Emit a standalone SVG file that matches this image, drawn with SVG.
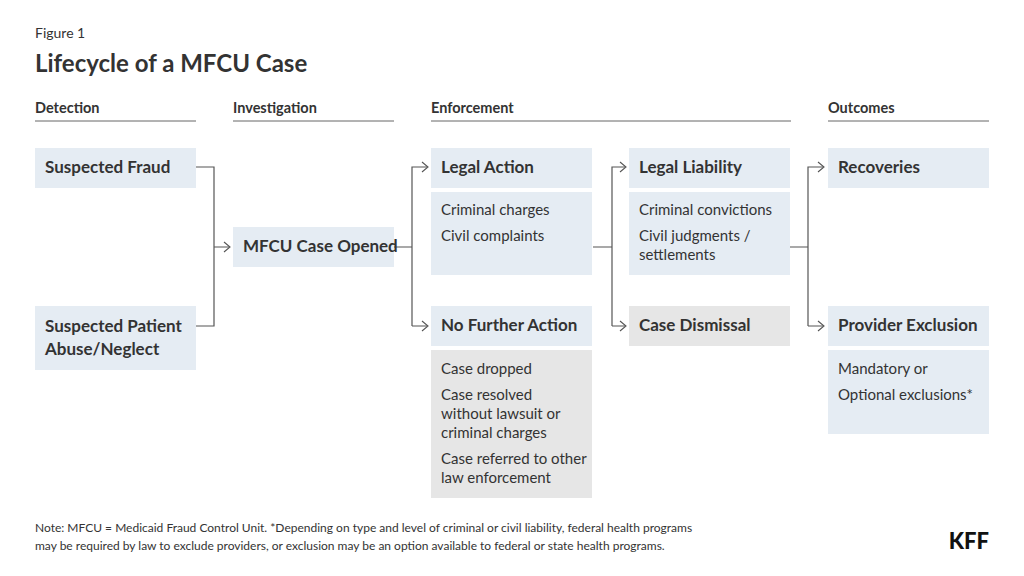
<svg xmlns="http://www.w3.org/2000/svg" width="1024" height="576" viewBox="0 0 1024 576">
<style>
text{font-family:Lato,"Open Sans","Liberation Sans",sans-serif;fill:#333}
.h{font-size:17px;font-weight:700}
.c{font-size:14.5px;font-weight:700}
.b{font-size:15px}
.blue{fill:#e5ecf3}
.gray{fill:#e6e6e6}
.rule{stroke:#666;stroke-width:1}
.ln{fill:none;stroke:#555;stroke-width:1.2}
.ar{fill:none;stroke:#555;stroke-width:1.1}
</style>
<rect width="1024" height="576" fill="#fff"/>
<text x="35" y="38" style="font-size:14px">Figure 1</text>
<text x="35" y="72" style="font-size:24px;font-weight:700">Lifecycle of a MFCU Case</text>
<g id="headers">
<text x="35" y="113" class="c">Detection</text><line class="rule" x1="35" y1="121" x2="196" y2="121"/>
<text x="233" y="113" class="c">Investigation</text><line class="rule" x1="233" y1="121" x2="394" y2="121"/>
<text x="431" y="113" class="c">Enforcement</text><line class="rule" x1="431" y1="121" x2="791" y2="121"/>
<text x="828" y="113" class="c">Outcomes</text><line class="rule" x1="828" y1="121" x2="989" y2="121"/>
</g>
<g id="connectors">
<path class="ln" d="M196 167H214V326H196M214 247H229"/>
<path class="ar" d="M224 242L230 247L224 252"/>
<path class="ln" d="M394 247H412M412 326V167H427M412 326H427"/>
<path class="ar" d="M422 162L428 167L422 172M422 321L428 326L422 331"/>
<path class="ln" d="M593 247H612M612 326V167H625M612 326H625"/>
<path class="ar" d="M620 162L626 167L620 172M620 321L626 326L620 331"/>
<path class="ln" d="M790 247H808M808 326V167H823M808 326H823"/>
<path class="ar" d="M818 162L824 167L818 172M818 321L824 326L818 331"/>
</g>
<g id="n-fraud"><rect class="blue" x="35" y="148" width="161" height="40"/><text x="45" y="173" class="h">Suspected Fraud</text></g>
<g id="n-abuse"><rect class="blue" x="35" y="306" width="161" height="64"/><text x="45" y="332" class="h">Suspected Patient</text><text x="45" y="355" class="h">Abuse/Neglect</text></g>
<g id="n-mfcu"><rect class="blue" x="233" y="227" width="161" height="40"/><text x="243" y="252" class="h">MFCU Case Opened</text></g>
<g id="n-legal"><rect class="blue" x="431" y="148" width="161" height="40"/><text x="441" y="173" class="h">Legal Action</text>
<rect class="blue" x="431" y="192" width="161" height="83"/><text x="441" y="215" class="b">Criminal charges</text><text x="441" y="241" class="b">Civil complaints</text></g>
<g id="n-nofurther"><rect class="blue" x="431" y="306" width="161" height="40"/><text x="441" y="331" class="h">No Further Action</text>
<rect class="gray" x="431" y="350" width="161" height="148"/>
<text x="441" y="374" class="b">Case dropped</text><text x="441" y="400" class="b">Case resolved</text><text x="441" y="419" class="b">without lawsuit or</text><text x="441" y="438" class="b">criminal charges</text><text x="441" y="464" class="b">Case referred to other</text><text x="441" y="483" class="b">law enforcement</text></g>
<g id="n-liability"><rect class="blue" x="629" y="148" width="161" height="40"/><text x="639" y="173" class="h">Legal Liability</text>
<rect class="blue" x="629" y="192" width="161" height="83"/><text x="639" y="215" class="b">Criminal convictions</text><text x="639" y="241" class="b">Civil judgments /</text><text x="639" y="260" class="b">settlements</text></g>
<g id="n-dismissal"><rect class="gray" x="629" y="306" width="161" height="40"/><text x="639" y="331" class="h">Case Dismissal</text></g>
<g id="n-recoveries"><rect class="blue" x="828" y="148" width="161" height="40"/><text x="838" y="173" class="h">Recoveries</text></g>
<g id="n-exclusion"><rect class="blue" x="828" y="306" width="161" height="40"/><text x="838" y="331" class="h">Provider Exclusion</text>
<rect class="blue" x="828" y="350" width="161" height="84"/><text x="838" y="374" class="b">Mandatory or</text><text x="838" y="400" class="b">Optional exclusions*</text></g>
<text x="35" y="532" style="font-size:12px">Note: MFCU = Medicaid Fraud Control Unit. *Depending on type and level of criminal or civil liability, federal health programs</text>
<text x="35" y="550" style="font-size:12px">may be required by law to exclude providers, or exclusion may be an option available to federal or state health programs.</text>
<text x="989" y="549" text-anchor="end" style="font-size:22px;font-weight:900;fill:#111">KFF</text>
</svg>
